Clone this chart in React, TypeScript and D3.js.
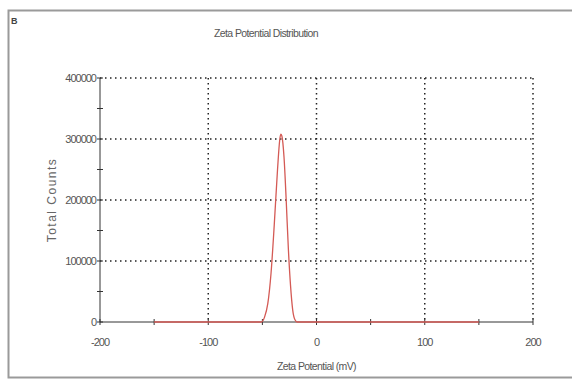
import { useRef, useEffect } from "react";
import * as d3 from "d3";

// zeta potential (mV) / total counts
const zeta = [-150, -55, -51, -48, -45, -42, -39, -36, -34, -33, -32, -30, -28, -26, -24, -22, -20, -18, 150];
const counts = [0, 0, 0, 8000, 30000, 80000, 160000, 250000, 298000, 308000, 305000, 270000, 200000, 120000, 60000, 20000, 4000, 0, 0];

const xTicks = [-200, -100, 0, 100, 200];
const xMinor = [-150, -50, 50, 150];
const yTicks = [0, 100000, 200000, 300000, 400000];
const yMinor = [50000, 150000, 250000, 350000];

const W = 572;
const H = 381;

const App = () => {
  const svgRef = useRef<SVGSVGElement | null>(null);

  useEffect(() => {
    document.body.style.margin = "0";
    const margin = { top: 78, right: 39, bottom: 59, left: 100 };
    const innerWidth = W - margin.left - margin.right;
    const innerHeight = H - margin.top - margin.bottom;

    const x = d3.scaleLinear().domain([-200, 200]).range([0, innerWidth]);
    const y = d3.scaleLinear().domain([0, 400000]).range([innerHeight, 0]);

    const svg = d3.select(svgRef.current);
    svg.selectAll("*").remove();

    svg.append("rect").attr("width", W).attr("height", H).attr("fill", "#fff");

    // outer frame
    svg.append("rect")
      .attr("x", 8.5).attr("y", 10.5)
      .attr("width", 620).attr("height", 367)
      .attr("fill", "none").attr("stroke", "#9a9a9a").attr("stroke-width", 2);

    const font = "Liberation Sans, Arial, sans-serif";

    svg.append("text")
      .attr("x", 11).attr("y", 24)
      .attr("font-family", font)
      .attr("font-size", 9).attr("font-weight", "bold").attr("fill", "#444")
      .text("B");

    svg.append("text")
      .attr("x", 266).attr("y", 37)
      .attr("text-anchor", "middle")
      .attr("font-family", font)
      .attr("font-size", 10.5).attr("fill", "#555")
      .attr("letter-spacing", -0.6)
      .text("Zeta Potential Distribution");

    const g = svg.append("g").attr("transform", `translate(${margin.left},${margin.top})`);

    // dotted grid
    g.selectAll(".vgrid")
      .data(xTicks.slice(1))
      .join("line")
      .attr("x1", (d) => x(d)).attr("x2", (d) => x(d))
      .attr("y1", 0).attr("y2", innerHeight)
      .attr("stroke", "#222").attr("stroke-width", 1.5)
      .attr("stroke-dasharray", "1.5,3.5");
    g.selectAll(".hgrid")
      .data(yTicks.slice(1))
      .join("line")
      .attr("x1", 0).attr("x2", innerWidth)
      .attr("y1", (d) => y(d)).attr("y2", (d) => y(d))
      .attr("stroke", "#222").attr("stroke-width", 1.5)
      .attr("stroke-dasharray", "1.5,3.5");

    // axes lines
    g.append("line")
      .attr("x1", 0).attr("x2", 0).attr("y1", 0).attr("y2", innerHeight)
      .attr("stroke", "#333").attr("stroke-width", 1);
    g.append("line")
      .attr("x1", 0).attr("x2", innerWidth).attr("y1", innerHeight).attr("y2", innerHeight)
      .attr("stroke", "#333").attr("stroke-width", 1);

    // ticks crossing the axes
    g.selectAll(".ytick")
      .data([...yTicks, ...yMinor])
      .join("line")
      .attr("x1", -3).attr("x2", 3)
      .attr("y1", (d) => y(d)).attr("y2", (d) => y(d))
      .attr("stroke", "#333");
    g.selectAll(".xtick")
      .data([...xTicks, ...xMinor])
      .join("line")
      .attr("x1", (d) => x(d)).attr("x2", (d) => x(d))
      .attr("y1", innerHeight - 3).attr("y2", innerHeight + 3)
      .attr("stroke", "#333");

    g.selectAll(".ylab")
      .data(yTicks)
      .join("text")
      .attr("x", -4)
      .attr("y", (d) => y(d) + 4)
      .attr("text-anchor", "end")
      .attr("font-family", font).attr("font-size", 11).attr("fill", "#555")
      .attr("letter-spacing", -1)
      .text((d) => String(d));

    g.selectAll(".xlab")
      .data(xTicks)
      .join("text")
      .attr("x", (d) => x(d))
      .attr("y", innerHeight + 24)
      .attr("text-anchor", "middle")
      .attr("font-family", font).attr("font-size", 11).attr("fill", "#555")
      .attr("letter-spacing", -1)
      .text((d) => String(d));

    g.append("text")
      .attr("transform", `translate(-44,${innerHeight / 2}) rotate(-90)`)
      .attr("text-anchor", "middle")
      .attr("font-family", font).attr("font-size", 12).attr("fill", "#666")
      .attr("letter-spacing", 1.5)
      .text("Total Counts");

    g.append("text")
      .attr("x", x(0)).attr("y", innerHeight + 48)
      .attr("text-anchor", "middle")
      .attr("font-family", font).attr("font-size", 10.5).attr("fill", "#555")
      .attr("letter-spacing", -0.6)
      .text("Zeta Potential (mV)");

    // distribution curve
    const pts = zeta.map((z, i) => [z, counts[i]] as [number, number]);
    const line = d3.line<[number, number]>()
      .x((d) => x(d[0]))
      .y((d) => y(d[1]))
      .curve(d3.curveMonotoneX);
    g.append("path")
      .datum(pts)
      .attr("d", line)
      .attr("fill", "none")
      .attr("stroke", "#d45a55")
      .attr("stroke-width", 1.3);
  }, []);

  return (
    <svg ref={svgRef} width={W} height={H} style={{ display: "block" }}></svg>
  );
};

export default App;
